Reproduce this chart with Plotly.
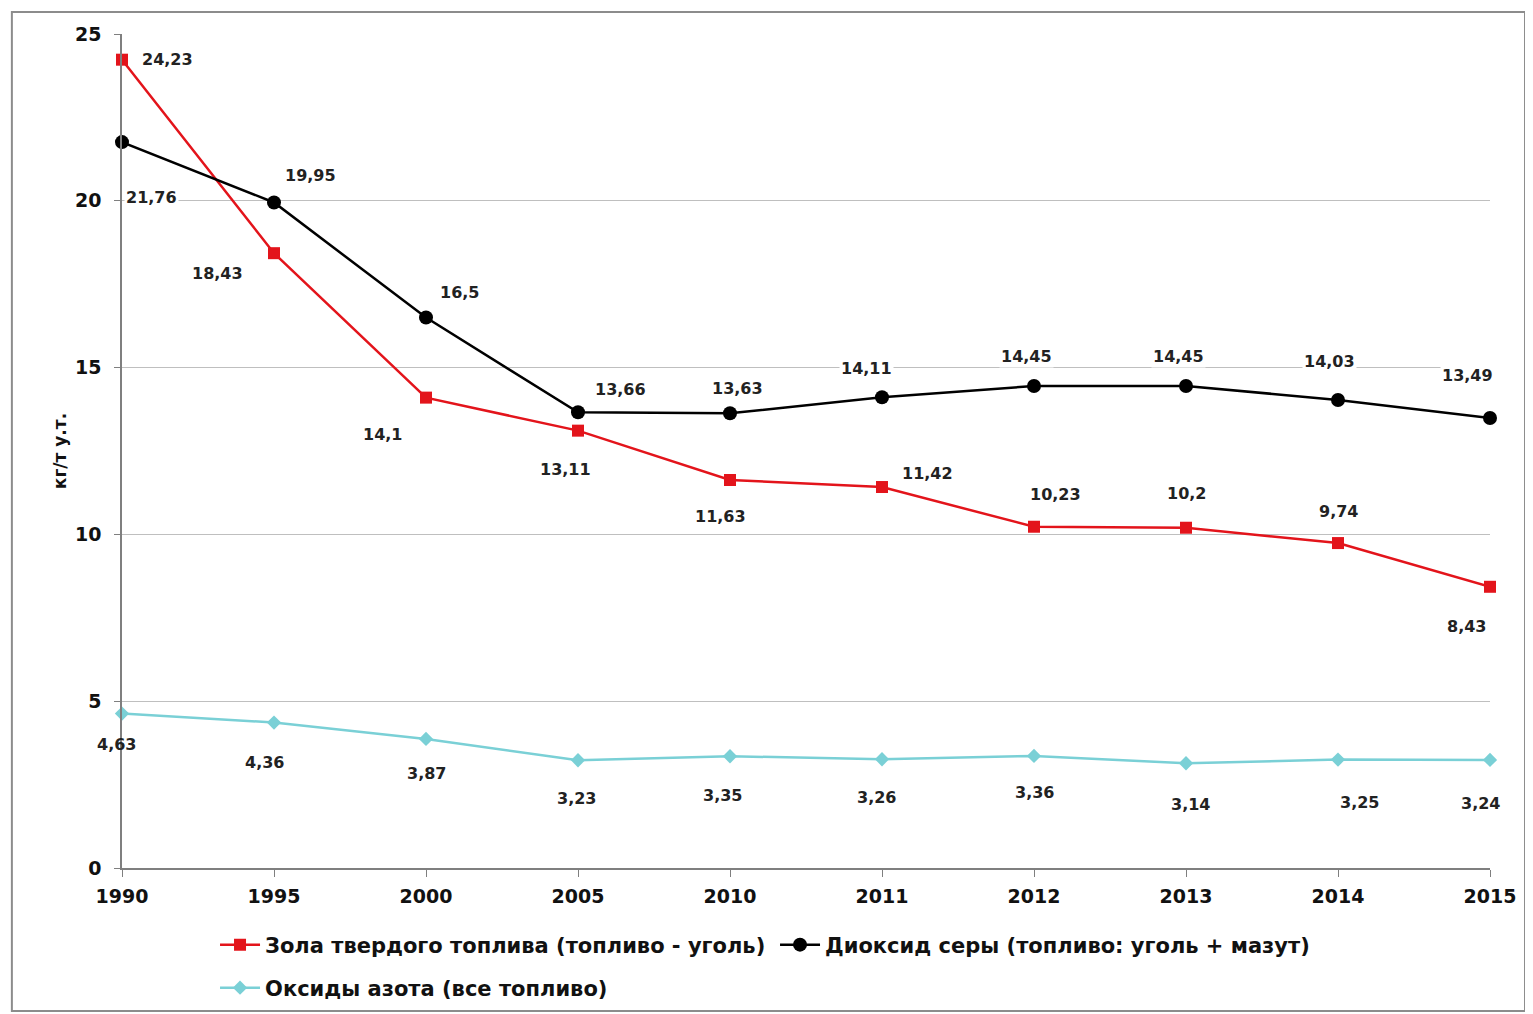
import plotly.graph_objects as go

years = ["1990", "1995", "2000", "2005", "2010", "2011", "2012", "2013", "2014", "2015"]
ash = [24.23, 18.43, 14.1, 13.11, 11.63, 11.42, 10.23, 10.2, 9.74, 8.43]
so2 = [21.76, 19.95, 16.5, 13.66, 13.63, 14.11, 14.45, 14.45, 14.03, 13.49]
nox = [4.63, 4.36, 3.87, 3.23, 3.35, 3.26, 3.36, 3.14, 3.25, 3.24]

names = ["Зола твердого топлива (топливо - уголь)",
         "Диоксид серы (топливо: уголь + мазут)",
         "Оксиды азота (все топливо)"]

# label pixel offsets (style only)
ash_off = [(45, 0), (-57, -20), (-44, -37), (-13, -39), (-10, -36), (45, 14), (21, 32), (0, 34), (0, 32), (-24, -40)]
so2_off = [(29, -55), (36, 27), (33, 25), (42, 23), (7, 25), (-16, 29), (-8, 29), (-8, 29), (-9, 38), (-23, 42)]
nox_off = [(-6, -31), (-10, -40), (0, -35), (-2, -38), (-8, -39), (-6, -38), (0, -37), (4, -41), (21, -43), (-10, -44)]

RED = "#e3141b"
BLACK = "#000000"
CYAN = "#7ad0d6"

fig = go.Figure()
fig.add_trace(go.Scatter(x=years, y=ash, name="<b>%s</b>" % names[0], mode="lines+markers",
                         line=dict(color=RED, width=2.5), legend="legend",
                         marker=dict(symbol="square", size=12, color=RED), cliponaxis=False))
fig.add_trace(go.Scatter(x=years, y=so2, name="<b>%s</b>" % names[1], mode="lines+markers",
                         line=dict(color=BLACK, width=2.5), legend="legend",
                         marker=dict(symbol="circle", size=14, color=BLACK), cliponaxis=False))
fig.add_trace(go.Scatter(x=years, y=nox, name="<b>%s</b>" % names[2], mode="lines+markers",
                         line=dict(color=CYAN, width=2.5), legend="legend2",
                         marker=dict(symbol="diamond", size=11, color=CYAN), cliponaxis=False))

lab_font = dict(family="DejaVu Sans", size=16, color="#222222")

def fmt(v):
    return ("%g" % v).replace(".", ",")

annotations = []
for vals, offs, bg in [(ash, ash_off, None), (so2, so2_off, "white"), (nox, nox_off, None)]:
    for i, (v, (dx, dy)) in enumerate(zip(vals, offs)):
        a = dict(x=i, y=v, xref="x", yref="y", text="<b>%s</b>" % fmt(v), showarrow=False,
                 xshift=dx, yshift=dy, font=lab_font)
        if bg:
            a["bgcolor"] = bg
        annotations.append(a)

leg_font = dict(family="DejaVu Sans", size=21, color="#111111")
W, H = 1525, 1006
fig.update_layout(
    width=W, height=H,
    margin=dict(l=114, r=43, t=26, b=146),
    plot_bgcolor="white", paper_bgcolor="white",
    annotations=annotations,
    showlegend=True,
    legend=dict(orientation="h", x=0.068, y=0.0686, yref="container", xanchor="left", yanchor="middle",
                font=leg_font, entrywidth=505, entrywidthmode="pixels",
                itemwidth=40, bgcolor="rgba(0,0,0,0)"),
    legend2=dict(orientation="h", x=0.068, y=0.0258, yref="container", xanchor="left", yanchor="middle",
                 font=leg_font, itemwidth=40, bgcolor="rgba(0,0,0,0)"),
    xaxis=dict(type="category", range=[0, 9], showgrid=False,
               showline=True, linecolor="#7f7f7f", linewidth=1.5,
               ticks="outside", ticklen=7, tickcolor="#7f7f7f", ticklabelstandoff=3,
               tickfont=dict(family="DejaVu Sans", size=19, color="#111111"),
               tickprefix="<b>", ticksuffix="</b>"),
    yaxis=dict(range=[0, 25], dtick=5, showgrid=True, gridcolor="#bfbfbf", gridwidth=1.2,
               showline=True, linecolor="#7f7f7f", linewidth=1.5,
               ticks="outside", ticklen=6, tickcolor="#7f7f7f", ticklabelstandoff=9,
               tickfont=dict(family="DejaVu Sans", size=19, color="#111111"),
               tickprefix="<b>", ticksuffix="</b>", zeroline=False,
               title=dict(text="<b>кг/т у.т.</b>", standoff=4,
                          font=dict(family="DejaVu Sans", size=17, color="#111111"))),
    shapes=[dict(type="rect", xref="paper", yref="paper", x0=-0.0805, x1=1.0256,
                 y0=-0.1715, y1=1.0265, line=dict(color="#8c8c8c", width=2), layer="below")],
)

fig.write_html("out.html")
